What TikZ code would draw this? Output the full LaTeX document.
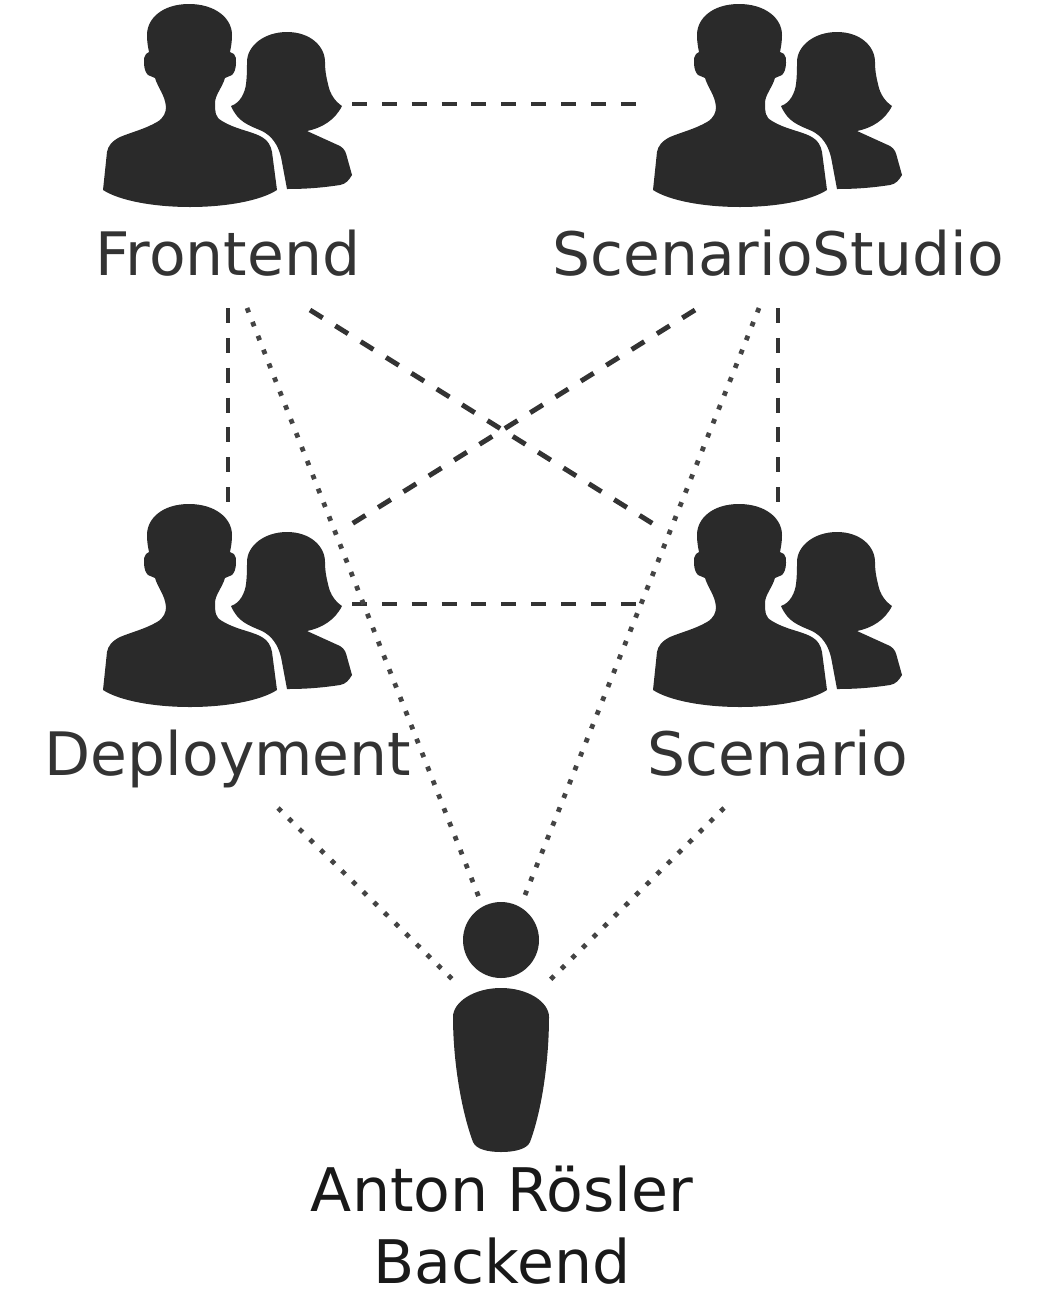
\documentclass[tikz,border=0pt]{standalone}
\usepackage{fontspec}
\setmainfont{DejaVu Sans}
\definecolor{icongray}{HTML}{2A2A2A}
\definecolor{dashgray}{HTML}{333333}
\definecolor{dotgray}{HTML}{444444}
\definecolor{labelgray}{HTML}{333333}
\tikzset{
  teamlabel/.style={text=labelgray, anchor=base, font=\fontsize{34.1}{42}\selectfont, inner sep=0pt},
  personlabel/.style={text=black!90, align=center, font=\fontsize{34.2}{41.4}\selectfont, inner sep=0pt},
  dashline/.style={draw=dashgray, line width=2.8pt, dash pattern=on 8.5pt off 8.5pt},
  dotline/.style={draw=dotgray, line width=2.7pt, dash pattern=on 2.7pt off 5.8pt},
  pics/team/.style={code={
    % man in front
    \fill[icongray] (189,4) .. controls (215,4) and (232,18) .. (232,35)
      .. controls (232,42) and (231,47) .. (230,52) -- (234,54) .. controls (236,56) and (236,59) .. (236,63)
      .. controls (236,69) and (234,73) .. (232,75) -- (225,78) .. controls (222,88) and (215,95) .. (215,103)
      .. controls (215,112) and (215,117) .. (222,121) .. controls (235,129) and (250,131) .. (260,136)
      .. controls (268,140) and (271,146) .. (272,152) -- (277,190)
      .. controls (260,201) and (225,207) .. (190,207) .. controls (155,207) and (120,201) .. (103,190)
      -- (107,152) .. controls (108,146) and (112,141) .. (120,137)
      .. controls (132,132) and (145,129) .. (157,122) .. controls (164,118) and (166,112) .. (166,107)
      .. controls (165,95) and (158,88) .. (155,78) -- (148,75) .. controls (146,73) and (144,69) .. (144,63)
      .. controls (144,59) and (144,56) .. (146,54) -- (149,52) .. controls (148,47) and (147,42) .. (147,35)
      .. controls (147,18) and (163,4) .. (189,4) -- cycle;
    % woman behind
    \fill[icongray] (287,32) .. controls (310,32) and (325,46) .. (325,62)
      .. controls (325,70) and (326,76) .. (328,84) .. controls (330,95) and (336,102) .. (342,106)
      .. controls (335,120) and (322,128) .. (307,131) -- (340,146)
      .. controls (345,149) and (346,153) .. (347,157) -- (352,175)
      .. controls (349,180) and (346,184) .. (340,185) .. controls (320,188) and (305,189) .. (287,189)
      -- (281,157) .. controls (278,145) and (272,136) .. (262,131)
      .. controls (248,125) and (238,122) .. (231,106) .. controls (240,103) and (245,93) .. (246,84)
      .. controls (247,76) and (247,70) .. (247,62) .. controls (247,46) and (264,32) .. (287,32) -- cycle;
  }}
}
\begin{document}
\begin{tikzpicture}[x=0.02cm, y=-0.02cm]
\useasboundingbox (0,0) rectangle (1060,1305);
% teams
\pic at (0,0) {team};
\pic at (550,0) {team};
\pic at (0,500) {team};
\pic at (550,500) {team};
\node[teamlabel] (frontend) at (228,275) {Frontend};
\node[teamlabel] (studio) at (778,275) {ScenarioStudio};
\node[teamlabel] (deployment) at (228,775) {Deployment};
\node[teamlabel] (scenario) at (778,775) {Scenario};
% backend person
\fill[icongray] (501,940) circle (38);
\fill[icongray] (501,988) .. controls (528,988) and (549,1002) .. (549,1017)
  .. controls (549,1060) and (542,1110) .. (530,1142) .. controls (527,1149) and (515,1152) .. (501,1152)
  .. controls (487,1152) and (476,1149) .. (473,1142) .. controls (461,1110) and (453,1060) .. (453,1017)
  .. controls (453,1002) and (474,988) .. (501,988) -- cycle;
\node[personlabel] (backend) at (502,1225) {Anton Rösler\\Backend};
% line ends
\coordinate (frontend e) at (352,104);
\coordinate (studio w) at (640,104);
\coordinate (frontend s) at (228,308);
\coordinate (frontend b) at (247,308);
\coordinate (frontend r) at (310,310);
\coordinate (studio l) at (695,310);
\coordinate (studio b) at (759,308);
\coordinate (studio s) at (778,308);
\coordinate (deployment n) at (228,503);
\coordinate (deployment r) at (350,525);
\coordinate (deployment e) at (352,604);
\coordinate (deployment b) at (278,808);
\coordinate (scenario n) at (778,503);
\coordinate (scenario l) at (655,525);
\coordinate (scenario w) at (640,604);
\coordinate (scenario b) at (724,808);
\coordinate (backend nw) at (480,900);
\coordinate (backend ne) at (525,895);
\coordinate (backend w) at (453,980);
\coordinate (backend e) at (550,980);
% dashed
\draw[dashline] (frontend e)--(studio w);
\draw[dashline] (frontend s)--(deployment n);
\draw[dashline] (studio s)--(scenario n);
\draw[dashline] (frontend r)--(scenario l);
\draw[dashline] (studio l)--(deployment r);
\draw[dashline] (deployment e)--(scenario w);
% dotted
\draw[dotline] (frontend b)--(backend nw);
\draw[dotline] (studio b)--(backend ne);
\draw[dotline] (deployment b)--(backend w);
\draw[dotline] (scenario b)--(backend e);
\end{tikzpicture}
\end{document}
